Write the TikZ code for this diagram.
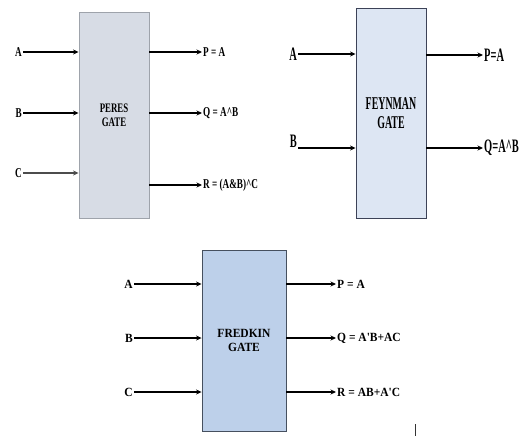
\documentclass[tikz,border=0pt]{standalone}
\usepackage{fontspec}
\setmainfont{Liberation Serif}
\newfontfamily\peresfont[FakeStretch=0.68]{Liberation Serif}
\newfontfamily\feynfont[FakeStretch=0.55]{Liberation Serif}
\newfontfamily\fredfont[FakeStretch=0.92]{Liberation Serif}
\usetikzlibrary{arrows.meta}
\definecolor{peresfill}{HTML}{D7DCE5}
\definecolor{peresdraw}{HTML}{9EA3AB}
\definecolor{feynfill}{HTML}{DDE6F3}
\definecolor{feyndraw}{HTML}{3C4257}
\definecolor{fredfill}{HTML}{BDD0EA}
\definecolor{freddraw}{HTML}{46505F}
\tikzset{
  arr/.style={line width=1.3pt, -{Stealth[length=5.5pt,width=5pt]}},
  gatebox/.style={draw, line width=0.9pt, inner sep=0pt, align=center},
  plab/.style={font=\peresfont\bfseries\fontsize{13.5}{14}\selectfont, inner sep=1pt},
  pbox/.style={font=\peresfont\bfseries\fontsize{13}{14}\selectfont},
  flab/.style={font=\feynfont\bfseries\fontsize{19}{20}\selectfont, inner sep=1pt},
  fbox/.style={font=\feynfont\bfseries\fontsize{18}{19}\selectfont},
  rlab/.style={font=\fredfont\bfseries\fontsize{12.5}{13}\selectfont, inner sep=1pt},
  rbox/.style={font=\fredfont\bfseries\fontsize{12.5}{14}\selectfont},
}
\begin{document}
\begin{tikzpicture}[x=1pt,y=-1pt]
\useasboundingbox[fill=white] (0,0) rectangle (520,436);

% ---------------- PERES GATE ----------------
\node[gatebox, pbox, fill=peresfill, draw=peresdraw, minimum width=70pt, minimum height=206pt] (peres) at (114,115) {PERES\\GATE};
\node[plab, anchor=east] (pa) at (23,52) {A};
\node[plab, anchor=east] (pb) at (23,113) {B};
\node[plab, anchor=east] (pc) at (23,173) {C};
\draw[arr] (pa.east) -- (pa.east -| peres.west);
\draw[arr] (pb.east) -- (pb.east -| peres.west);
\draw[arr, draw=black!70] (pc.east) -- (pc.east -| peres.west);
\node[plab, anchor=west] (pp) at (202,52) {P = A};
\node[plab, anchor=west] (pq) at (202,113) {Q = A\textasciicircum B};
\node[plab, anchor=west] (pr) at (202,185) {R = (A\&B)\textasciicircum C};
\draw[arr] (peres.east |- pp.west) -- (pp.west);
\draw[arr] (peres.east |- pq.west) -- (pq.west);
\draw[arr] (peres.east |- pr.west) -- (pr.west);

% ---------------- FEYNMAN GATE ----------------
\node[gatebox, fbox, fill=feynfill, draw=feyndraw, minimum width=70pt, minimum height=210pt] (feyn) at (391,113) {FEYNMAN\\GATE};
\node[flab, anchor=east] (fa) at (298,54) {A};
\node[flab, anchor=base east] (fb) at (298,147) {B};
\coordinate (fbs) at (298,148);
\draw[arr] (fa.east) -- (fa.east -| feyn.west);
\draw[arr] (fbs) -- (fbs -| feyn.west);
\node[flab, anchor=west] (fp) at (483,55) {P=A};
\node[flab, anchor=west] (fq) at (483,148) {Q=A\textasciicircum B};
\draw[arr] (feyn.east |- fp.west) -- (fp.west);
\draw[arr] (feyn.east |- fq.west) -- (fq.west);

% ---------------- FREDKIN GATE ----------------
\node[gatebox, rbox, fill=fredfill, draw=freddraw, minimum width=84pt, minimum height=181pt] (fred) at (244,340.5) {FREDKIN\\GATE};
\node[rlab, anchor=east] (ra) at (134,284) {A};
\node[rlab, anchor=east] (rb) at (134,338) {B};
\node[rlab, anchor=east] (rc) at (134,392) {C};
\draw[arr] (ra.east) -- (ra.east -| fred.west);
\draw[arr] (rb.east) -- (rb.east -| fred.west);
\draw[arr] (rc.east) -- (rc.east -| fred.west);
\node[rlab, anchor=west] (rp) at (336,284) {P = A};
\node[rlab, anchor=west] (rq) at (336,338) {Q = A'B+AC};
\node[rlab, anchor=west] (rr) at (336,392) {R = AB+A'C};
\draw[arr] (fred.east |- rp.west) -- (rp.west);
\draw[arr] (fred.east |- rq.west) -- (rq.west);
\draw[arr] (fred.east |- rr.west) -- (rr.west);

% stray mark
\coordinate (m1) at (415,424);
\coordinate (m2) at (415,436);
\draw[line width=0.9pt, black!80] (m1) -- (m2);
\end{tikzpicture}
\end{document}
